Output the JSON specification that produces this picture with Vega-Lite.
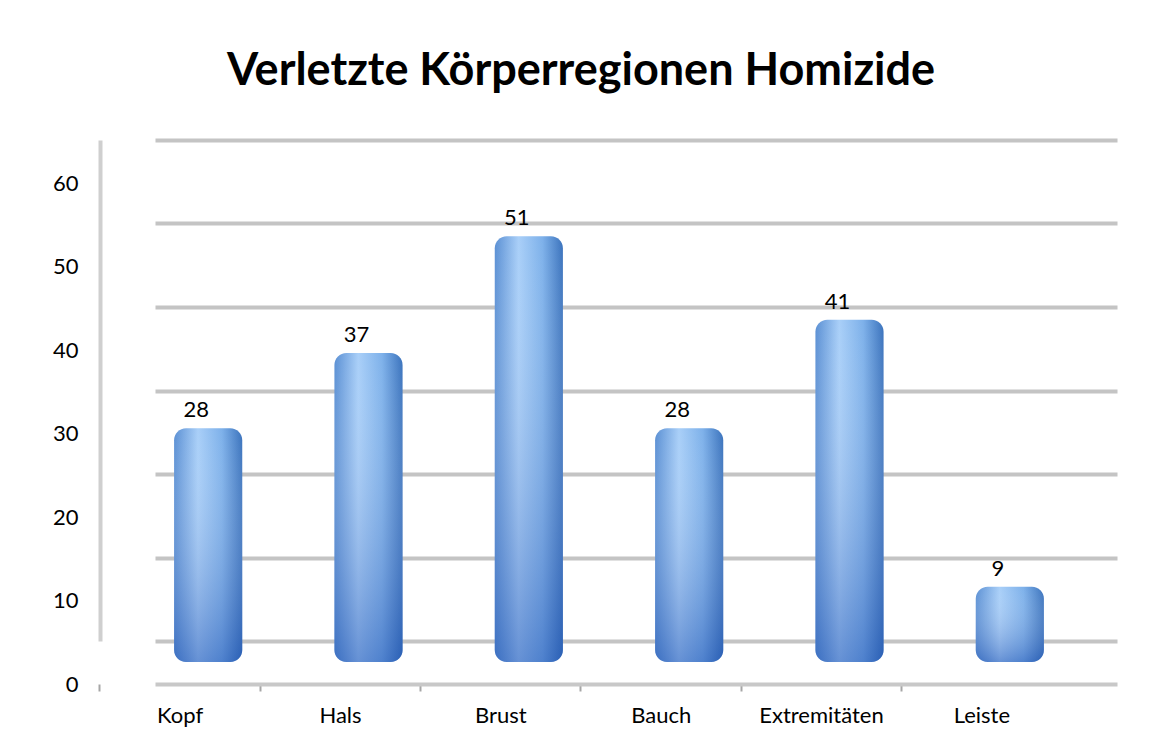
{
  "$schema": "https://vega.github.io/schema/vega-lite/v6.json",
  "width": 962,
  "height": 501,
  "autosize": {"type": "none"},
  "padding": {"left": 155, "top": 140, "right": 50, "bottom": 105},
  "background": "white",
  "title": {
    "text": "Verletzte Körperregionen Homizide",
    "font": "Lato",
    "fontSize": 45,
    "fontWeight": "bold",
    "color": "black",
    "anchor": "middle",
    "dx": -55,
    "offset": 46
  },
  "config": {
    "view": {"stroke": null},
    "font": "Lato"
  },
  "data": {
    "values": [
      {"region": "Kopf", "count": 28},
      {"region": "Hals", "count": 37},
      {"region": "Brust", "count": 51},
      {"region": "Bauch", "count": 28},
      {"region": "Extremitäten", "count": 41},
      {"region": "Leiste", "count": 9}
    ]
  },
  "encoding": {
    "x": {
      "field": "region",
      "type": "nominal",
      "sort": null,
      "scale": {"paddingInner": 0, "paddingOuter": 0},
      "axis": {
        "title": null,
        "labelAngle": 0,
        "labelFont": "Lato",
        "labelFontSize": 22,
        "labelColor": "black",
        "labelPadding": 14,
        "offset": 43,
        "bandPosition": -0.34375,
        "labelOffset": -55,
        "tickSize": 7,
        "tickColor": "#a6a6a6",
        "tickWidth": 2,
        "domainColor": "#c8c8c8",
        "domainWidth": 4,
        "grid": false
      }
    },
    "y": {
      "field": "count",
      "type": "quantitative",
      "stack": null,
      "scale": {"domain": [0, 60], "nice": false},
      "axis": {
        "title": null,
        "values": [0, 10, 20, 30, 40, 50, 60],
        "labelFont": "Lato",
        "labelFontSize": 22,
        "labelColor": "black",
        "labelOffset": 43,
        "labelPadding": 22,
        "offset": 55,
        "ticks": false,
        "domainColor": "#cfcfcf",
        "domainWidth": 4,
        "grid": true,
        "gridColor": "#c4c4c4",
        "gridWidth": 4
      }
    }
  },
  "layer": [
    {
      "mark": {
        "type": "bar",
        "width": {"band": 0.425},
        "xOffset": -27,
        "yOffset": 21,
        "y2Offset": 21,
        "cornerRadiusTopLeft": 12,
        "cornerRadiusTopRight": 12,
        "cornerRadiusBottomLeft": 12,
        "cornerRadiusBottomRight": 12,
        "fill": {
          "gradient": "linear",
          "x1": 0, "y1": 0, "x2": 1, "y2": 0,
          "stops": [
            {"offset": 0, "color": "#5b90d4"},
            {"offset": 0.35, "color": "#a9cff8"},
            {"offset": 0.7, "color": "#7eb1ea"},
            {"offset": 1, "color": "#3b73bd"}
          ]
        }
      },
      "encoding": {"y2": {"datum": 0}}
    },
    {
      "mark": {
        "type": "bar",
        "width": {"band": 0.425},
        "xOffset": -27,
        "yOffset": 21,
        "y2Offset": 21,
        "cornerRadiusTopLeft": 12,
        "cornerRadiusTopRight": 12,
        "cornerRadiusBottomLeft": 12,
        "cornerRadiusBottomRight": 12,
        "fill": {
          "gradient": "linear",
          "x1": 0, "y1": 0, "x2": 0, "y2": 1,
          "stops": [
            {"offset": 0, "color": "rgba(255,255,255,0)"},
            {"offset": 1, "color": "rgba(20,70,170,0.45)"}
          ]
        }
      },
      "encoding": {"y2": {"datum": 0}}
    },
    {
      "mark": {
        "type": "text",
        "font": "Lato",
        "fontSize": 22,
        "color": "black",
        "baseline": "alphabetic",
        "xOffset": -39,
        "dy": 10
      },
      "encoding": {
        "text": {"field": "count", "type": "quantitative"}
      }
    }
  ]
}
